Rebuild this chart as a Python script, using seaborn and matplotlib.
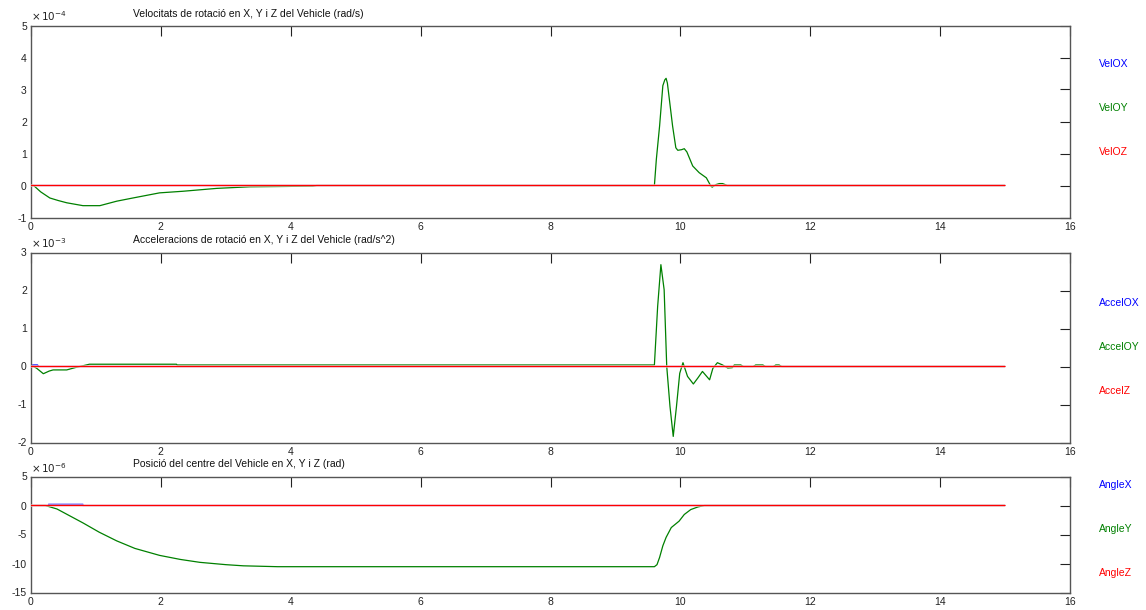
import numpy as np
import pandas as pd
import matplotlib
matplotlib.use("Agg")
import matplotlib.pyplot as plt
import matplotlib.patheffects as pe
from matplotlib.ticker import FuncFormatter
import seaborn as sns

# ---------------- data ----------------
# angular velocity (rad/s), values in units of 1e-4
vel_t = [0, 0.04, 0.15, 0.29, 0.42, 0.55, 0.8, 1.06, 1.32, 1.57, 1.98, 2.34, 2.86,
         3.37, 3.9, 4.34, 4.4, 9.6, 9.63, 9.68, 9.73, 9.76, 9.78, 9.80, 9.83, 9.88,
         9.93, 9.96, 10.02, 10.06, 10.1, 10.19, 10.29, 10.4, 10.47, 10.49, 10.55,
         10.6, 10.65, 10.7, 10.72, 15]
vel_oy = [0, 0, -0.2, -0.39, -0.47, -0.54, -0.63, -0.63, -0.49, -0.39, -0.23, -0.18,
          -0.09, -0.04, -0.03, -0.02, 0, 0, 0.82, 1.86, 3.12, 3.3, 3.35, 3.2, 2.7,
          1.86, 1.18, 1.1, 1.12, 1.15, 1.05, 0.61, 0.4, 0.24, -0.02, -0.05, 0.03,
          0.06, 0.06, 0.02, 0, 0]
vel_ox_t = [0, 15]
vel_ox = [0, 0]
vel_oz_t = [0, 15]
vel_oz = [0, 0]

# angular acceleration (rad/s^2), values in units of 1e-3
acc_t = [0, 0.04, 0.09, 0.19, 0.28, 0.34, 0.55, 0.7, 0.75, 0.9, 2.24, 2.25, 9.6,
         9.65, 9.70, 9.75, 9.79, 9.84, 9.89, 9.94, 9.99, 10.04, 10.11, 10.2, 10.27,
         10.34, 10.4, 10.45, 10.5, 10.57, 10.65, 10.73, 10.8, 10.83, 10.93, 10.97,
         11.12, 11.16, 11.27, 11.31, 11.43, 11.47, 11.52, 11.56, 15]
acc_oy = [0, 0, -0.05, -0.19, -0.12, -0.09, -0.09, -0.02, 0, 0.06, 0.06, 0.04, 0.04,
          1.58, 2.68, 2.02, 0, -1.05, -1.84, -1.05, -0.18, 0.1, -0.26, -0.46, -0.3,
          -0.13, -0.25, -0.35, -0.05, 0.1, 0.04, -0.04, -0.03, 0.04, 0.04, 0, 0,
          0.04, 0.04, 0, 0, 0.04, 0.04, 0, 0]
acc_ox_t = [0, 0.04, 0.1, 0.12, 15]
acc_ox = [0.03, 0.04, 0.04, 0, 0]
acc_z_t = [0, 15]
acc_z = [0, 0]

# angular position (rad), values in units of 1e-6
ang_t = [0, 0.22, 0.4, 0.6, 0.8, 1.05, 1.32, 1.6, 1.98, 2.3, 2.6, 3.0, 3.27, 3.8,
         9.6, 9.64, 9.68, 9.73, 9.78, 9.86, 9.98, 10.06, 10.16, 10.27, 10.37, 15]
ang_y = [0, 0, -0.6, -1.8, -3.0, -4.6, -6.1, -7.4, -8.6, -9.3, -9.8, -10.2, -10.4,
         -10.55, -10.55, -10.2, -8.95, -6.95, -5.5, -3.8, -2.7, -1.55, -0.7, -0.25,
         0, 0]
ang_x_t = [0, 0.27, 0.27, 0.8, 0.8, 15]
ang_x = [0, 0, 0.2, 0.2, 0, 0]
ang_z_t = [0, 15]
ang_z = [0, 0]

# ---------------- style ----------------
sns.set_style("white")
plt.rcParams["font.family"] = ["Liberation Sans", "DejaVu Sans"]
plt.rcParams["axes.unicode_minus"] = False

BLUE, GREEN, RED = "#0000ff", "#008000", "#ff0000"
COLORS = [BLUE, GREEN, RED]
WIDTHS = [0.9, 0.9, 1.0]
# the Z trace is drawn last with a thin white halo so it hides X/Y where they coincide
EFFECTS = [None, None, [pe.Stroke(linewidth=1.5, foreground="white"), pe.Normal()]]

# axes boxes in pixels from the top (top edge, bottom edge)
panels = [
    dict(series=[("VelOX", vel_ox_t, vel_ox), ("VelOY", vel_t, vel_oy),
                 ("VelOZ", vel_oz_t, vel_oz)],
         exp=-4, ylim=(-1, 5), step=1,
         title="Velocitats de rotació en X, Y i Z del Vehicle (rad/s)",
         box=(25.5, 217.5), title_y=14, label_y=[64, 108, 152]),
    dict(series=[("AccelOX", acc_ox_t, acc_ox), ("AccelOY", acc_t, acc_oy),
                 ("AccelZ", acc_z_t, acc_z)],
         exp=-3, ylim=(-2, 3), step=1,
         title="Acceleracions de rotació en X, Y i Z del Vehicle (rad/s^2)",
         box=(252.5, 442.5), title_y=240, label_y=[303, 347, 391]),
    dict(series=[("AngleX", ang_x_t, ang_x), ("AngleY", ang_t, ang_y),
                 ("AngleZ", ang_z_t, ang_z)],
         exp=-6, ylim=(-15, 5), step=5,
         title="Posició del centre del Vehicle en X, Y i Z (rad)",
         box=(476.5, 592.5), title_y=464, label_y=[485, 529, 573]),
]

W, H = 1146, 610
fig = plt.figure(figsize=(W / 100, H / 100), dpi=100)
left_px, right_px = 31, 1070

for p in panels:
    top, bot = p["box"]
    ax = fig.add_axes([left_px / W, 1 - bot / H, (right_px - left_px) / W,
                       (bot - top) / H])
    s = 10.0 ** p["exp"]
    # X first, then Y, then Z on top
    for z, ((name, t, v), col, lw, fx) in enumerate(
            zip(p["series"], COLORS, WIDTHS, EFFECTS)):
        df = pd.DataFrame({"t": t, "v": np.asarray(v, float) * s})
        kw = dict(path_effects=fx) if fx else {}
        sns.lineplot(data=df, x="t", y="v", color=col, estimator=None, sort=False,
                     linewidth=lw, snap=False, ax=ax, zorder=2 + z, **kw)
    lo, hi = p["ylim"]
    ax.set_xlim(0, 16)
    ax.set_ylim(lo * s, hi * s)
    ax.set_xticks(np.arange(0, 17, 2))
    ax.set_yticks(np.arange(lo, hi + p["step"] / 2, p["step"]) * s)
    ax.yaxis.set_major_formatter(FuncFormatter(lambda val, pos, s=s: f"{val / s:g}"))
    ax.xaxis.set_major_formatter(FuncFormatter(lambda val, pos: f"{val:g}"))
    ax.text(0.0, 1.015, r"$\times\,10^{%d}$" % p["exp"], transform=ax.transAxes,
            fontsize=7.5, ha="left", va="bottom", color="#222222")
    ax.set_xlabel("")
    ax.set_ylabel("")
    ax.tick_params(direction="in", length=7, width=0.8, labelsize=7.5,
                   top=True, right=True, colors="#222222", pad=3)
    for sp in ax.spines.values():
        sp.set_visible(True)
        sp.set_color("#555555")
        sp.set_linewidth(1.0)
    fig.text(133 / W, 1 - p["title_y"] / H, p["title"], fontsize=7.5,
             ha="left", va="center", color="#111111")
    for (name, _, _), col, yy in zip(p["series"], COLORS, p["label_y"]):
        fig.text(1099 / W, 1 - yy / H, name, fontsize=7.5, color=col,
                 ha="left", va="center")

fig.savefig("out.png", dpi=100, facecolor="white")
